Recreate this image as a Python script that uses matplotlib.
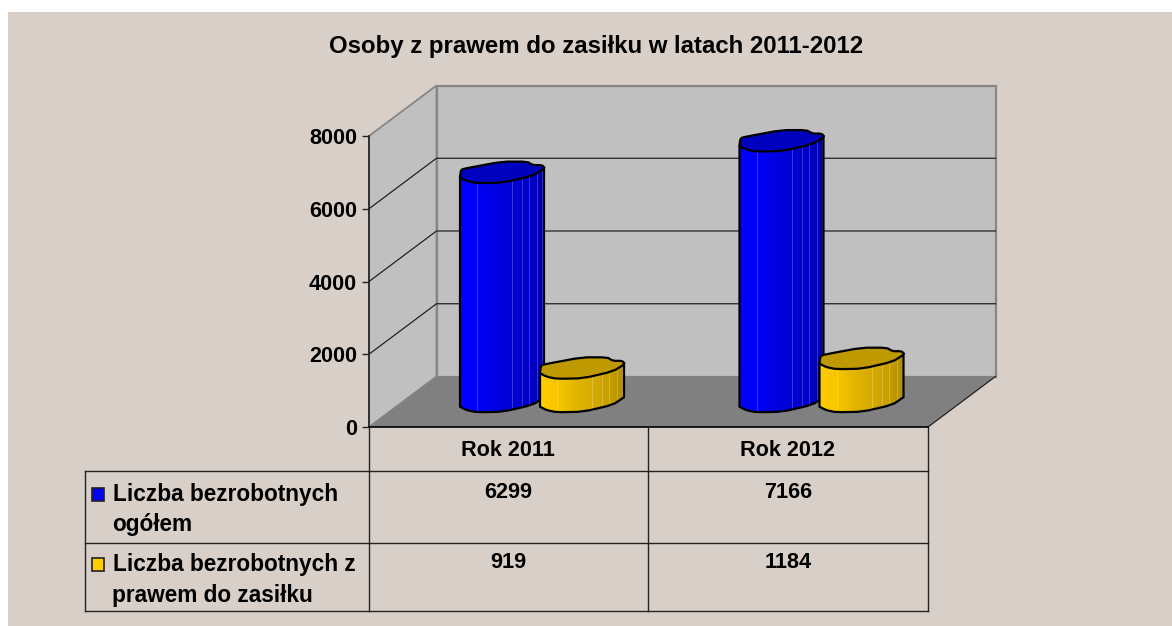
import numpy as np
import matplotlib
matplotlib.use('Agg')
import matplotlib.pyplot as plt
from matplotlib.patches import Polygon, Rectangle
from matplotlib.colors import to_rgb

plt.rcParams['font.family'] = ['Liberation Sans', 'DejaVu Sans']

# dane
categories = ['Rok 2011', 'Rok 2012']
series_names = ['Liczba bezrobotnych\nogółem', 'Liczba bezrobotnych z\nprawem do zasiłku']
total = [6299, 7166]
with_benefit = [919, 1184]
y_ticks = [0, 2000, 4000, 6000, 8000]
title = 'Osoby z prawem do zasiłku w latach 2011-2012'

W, H = 1172, 626
BG = '#d8cfc9'
WALL = '#c0c0c0'
FLOOR = '#808080'
EDGE = '#868686'

# glebokosc 3d w pikselach
DX, DY = 67.5, 50.5
PX_X = 279.5
PX_Y = 291 / 8000


def fig_box(x0, y0, x1, y1):
    return [x0 / W, 1 - y1 / H, (x1 - x0) / W, (y1 - y0) / H]


def smooth(pts, closed=True, n=1):
    # wygladzanie obrysu (corner cutting)
    pts = np.asarray(pts, dtype=float)
    for _ in range(n):
        a = pts if closed else pts[:-1]
        b = np.roll(pts, -1, axis=0) if closed else pts[1:]
        q = np.empty((2 * len(a), 2))
        q[0::2] = 0.8 * a + 0.2 * b
        q[1::2] = 0.2 * a + 0.8 * b
        pts = q if closed else np.vstack([pts[:1], q, pts[-1:]])
    return pts


fig = plt.figure(figsize=(W / 100, H / 100), dpi=100, facecolor='white')
fig.patches.append(Rectangle((8 / W, 0), 1 - 8 / W, 1 - 12 / H, transform=fig.transFigure,
                             facecolor=BG, edgecolor='none', zorder=-5))

# przednia plaszczyzna wykresu
ax = fig.add_axes(fig_box(369, 136, 928, 427))
ax.set_xlim(0, 2)
ax.set_ylim(0, 8000)
ax.patch.set_visible(False)
for s in ax.spines.values():
    s.set_visible(False)
ax.set_xticks([])
ax.set_yticks(y_ticks)
ax.set_yticklabels([str(t) for t in y_ticks], fontsize=15.6, fontweight='bold', color='black')
ax.tick_params(axis='y', length=5, width=1, color='#222222', pad=3.6)


def pr(x, v, d=0.0):
    # punkt (kategoria, wartosc, glebokosc 0-1) na plaszczyzne osi
    return (x + d * DX / PX_X, v + d * DY / PX_Y)


def poly(points, **kw):
    kw.setdefault('clip_on', False)
    p = Polygon(points, closed=True, **kw)
    ax.add_patch(p)
    return p


top = y_ticks[-1]
poly([pr(0, 0, 1), pr(2, 0, 1), pr(2, top, 1), pr(0, top, 1)], facecolor=WALL, edgecolor=EDGE, lw=1.6, zorder=1)
poly([pr(0, 0), pr(0, 0, 1), pr(0, top, 1), pr(0, top)], facecolor=WALL, edgecolor=EDGE, lw=1.3, zorder=1)
poly([pr(0, 0), pr(2, 0), pr(2, 0, 1), pr(0, 0, 1)], facecolor=FLOOR, edgecolor='none', zorder=1.5)
ax.plot(*zip(pr(2, 0), pr(2, 0, 1)), color='#222222', lw=0.9, clip_on=False, zorder=1.6)

# siatka
for t in y_ticks[1:-1]:
    ax.plot(*zip(pr(0, t), pr(0, t, 1), pr(2, t, 1)), color='#222222', lw=0.9, clip_on=False, zorder=2)
ax.plot(*zip(pr(0, 0), pr(0, top)), color='#222222', lw=1.2, clip_on=False, zorder=2)
ax.plot(*zip(pr(0, 0), pr(2, 0)), color='black', lw=1.2, clip_on=False, zorder=2)

# obrys podstawy slupka: przesuniecie od srodka w pikselach
shape_x = np.array([-42, -41, -35, 0, 25, 31, 40, 43, 31, 1, -25, -35, -42])
shape_y = np.array([4, -3, -4.5, -11, -11, -7.5, -7.5, -4.5, 3, 10, 10.5, 8.5, 5])
low_x = np.array([-42, -35, -25, 1, 31, 42], dtype=float)
low_y = np.array([5, 8.5, 10.5, 10, 3, -4.5])

# pionowe pasy: jasnosc i cienkie jasne linie
shade_x = [-42, -25, -5, 10, 20, 27, 35, 42]
shade_v = [1.0, 0.97, 0.88, 0.84, 0.80, 0.78, 0.73, 0.70]
line_x = [-25, 10, 20, 27, 35, 40]


def column(xc, value, color, z):
    rgb = np.array(to_rgb(color))
    cx0, cy0 = pr(xc, 0, 0.5)
    cx1, cy1 = pr(xc, value, 0.5)
    edges = np.arange(-42, 43, 3.0)
    for a, b in zip(edges[:-1], edges[1:]):
        xs = np.array([a, b + 0.5 if b < 42 else b])
        low = np.interp(xs, low_x, low_y)
        shade = np.interp((a + b) / 2, shade_x, shade_v)
        pts = [(cx0 + xs[0] / PX_X, cy0 - low[0] / PX_Y), (cx0 + xs[1] / PX_X, cy0 - low[1] / PX_Y),
               (cx1 + xs[1] / PX_X, cy1 - low[1] / PX_Y), (cx1 + xs[0] / PX_X, cy1 - low[0] / PX_Y)]
        poly(pts, facecolor=rgb * shade, edgecolor='none', zorder=z)
    for lx in line_x:
        low = np.interp(lx, low_x, low_y)
        ax.plot([cx0 + lx / PX_X] * 2, [cy0 - low / PX_Y, cy1 - low / PX_Y], color='white',
                alpha=0.22, lw=0.7, clip_on=False, zorder=z + 0.01)
    # obrys boczny i dolny
    base = smooth(np.column_stack([low_x, low_y]), closed=False)
    outline = np.vstack([
        [[cx1 - 42 / PX_X, cy1 - 5 / PX_Y]],
        np.column_stack([cx0 + base[:, 0] / PX_X, cy0 - base[:, 1] / PX_Y]),
        [[cx1 + 42 / PX_X, cy1 + 4.5 / PX_Y]],
    ])
    ax.plot(outline[:, 0], outline[:, 1], color='black', lw=1.6, clip_on=False, zorder=z + 0.02,
            solid_joinstyle='round')
    # gorna podstawa
    cap = smooth(np.column_stack([shape_x, shape_y]))
    poly(np.column_stack([cx1 + cap[:, 0] / PX_X, cy1 - cap[:, 1] / PX_Y]), facecolor=rgb * 0.75,
         edgecolor='black', lw=1.6, joinstyle='round', zorder=z + 0.03)


gap = 80 / PX_X
first_center = (502 - 369 - 0.5 * DX) / PX_X
for i in range(len(categories)):
    column(first_center + i, total[i], '#0000ff', 3 + i)
    column(first_center + gap + i, with_benefit[i], '#ffcc00', 3.5 + i)


# tytul i tabela w pikselach rysunku
def label(x, y, s, **kw):
    kw.setdefault('fontweight', 'bold')
    kw.setdefault('color', 'black')
    fig.text(x / W, 1 - y / H, s, **kw)


def line(x0, y0, x1, y1):
    fig.add_artist(plt.Line2D([x0 / W, x1 / W], [1 - y0 / H, 1 - y1 / H], color='#222222', lw=1.0))


label(596, 46, title, fontsize=17.3, ha='center', va='center')

col_x = [368.5, 648, 928]
row_y = [427, 470.5, 542.5, 610.5]
for y in row_y[1:]:
    line(85, y, col_x[2], y)
line(85, row_y[1], 85, row_y[3])
for x in col_x:
    line(x, row_y[0], x, row_y[3])

for i, name in enumerate(categories):
    label((col_x[i] + col_x[i + 1]) / 2 - 0.5, 450.5, name, fontsize=15.6, ha='center', va='center')

# przesuniecia wierszy tabeli
line1_dy = [23.5, 22.5]
line2_dy = [54, 53]
swatch_dy = [17.5, 15.5]
value_dy = [22, 20]
for r, (vals, name, col) in enumerate(zip([total, with_benefit], series_names, ['#0000ff', '#ffcc00'])):
    y0 = row_y[r + 1]
    first, second = name.split('\n')
    label(113, y0 + line1_dy[r], first, fontsize=16.3, ha='left', va='center')
    label(112, y0 + line2_dy[r], second, fontsize=16.3, ha='left', va='center')
    fig.patches.append(Rectangle((91.5 / W, 1 - (y0 + swatch_dy[r] + 13) / H), 12.5 / W, 13 / H,
                                 transform=fig.transFigure, facecolor=col, edgecolor='#222222', lw=1.2))
    for i, v in enumerate(vals):
        label((col_x[i] + col_x[i + 1]) / 2, y0 + value_dy[r], str(v), fontsize=15.6, ha='center', va='center')

fig.savefig('out.png', dpi=100, facecolor=fig.get_facecolor())
